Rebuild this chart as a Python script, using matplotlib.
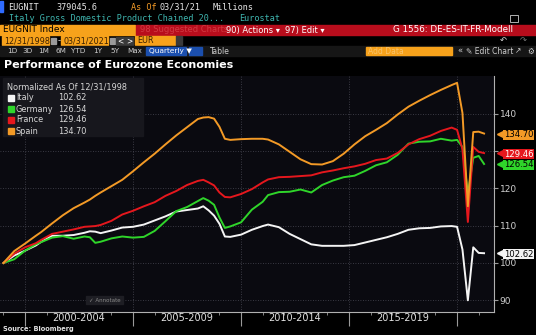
#!/usr/bin/env python3
"""Bloomberg-style chart: Performance of Eurozone Economies (GDP normalized to 12/31/1998)."""
import matplotlib
matplotlib.use("Agg")
import matplotlib.pyplot as plt
import matplotlib.transforms as mtransforms
from matplotlib.patches import Rectangle

# quarter-end dates as fractional years (12/31/1998 -> 1999.0)
dates = [1999.0, 1999.5, 2000.0, 2000.5, 2000.75, 2001.25, 2001.75, 2002.25, 2002.75,
         2003.0, 2003.25, 2003.5, 2004.0, 2004.5, 2005.0, 2005.5, 2006.0, 2006.5,
         2007.0, 2007.5, 2008.0, 2008.25, 2008.5, 2008.75, 2009.0, 2009.25, 2009.5,
         2010.0, 2010.5, 2011.0, 2011.25, 2011.75, 2012.25, 2012.75, 2013.25, 2013.75,
         2014.25, 2014.75, 2015.25, 2015.75, 2016.25, 2016.75, 2017.25, 2017.75,
         2018.25, 2018.75, 2019.25, 2019.75, 2020.0, 2020.25, 2020.5, 2020.75,
         2021.0, 2021.25]

italy = [100, 102.0, 103.3, 104.7, 105.7, 107.3, 107.3, 107.5, 108.1,
         108.5, 108.4, 108.0, 108.7, 109.5, 109.7, 110.3, 111.4, 112.5,
         113.8, 114.2, 114.6, 115.2, 114.1, 112.7, 110.5, 107.1, 107.0,
         107.6, 108.9, 109.9, 110.3, 109.6, 107.8, 106.4, 105.0, 104.6,
         104.6, 104.6, 104.8, 105.5, 106.2, 106.9, 107.8, 108.9,
         109.3, 109.4, 109.8, 109.9, 109.7, 103.6, 90.0, 104.2,
         102.7, 102.62]

germany = [100, 101.0, 103.3, 105.0, 105.6, 106.8, 107.2, 106.5, 107.1,
           106.9, 105.4, 105.7, 106.6, 107.1, 106.8, 107.0, 108.6, 111.2,
           113.9, 115.0, 116.6, 117.4, 116.7, 115.6, 112.2, 109.4, 109.8,
           110.9, 114.3, 116.4, 118.2, 119.0, 119.1, 119.7, 118.9, 120.9,
           122.1, 123.0, 123.4, 124.7, 126.2, 127.0, 129.0, 132.0,
           132.5, 132.6, 133.3, 132.8, 133.0, 131.1, 118.5, 128.2,
           128.7, 126.54]

france = [100, 102.5, 104.2, 105.3, 106.2, 107.8, 108.4, 109.0, 109.7,
          109.8, 109.9, 110.2, 111.3, 113.0, 114.0, 115.2, 116.3, 118.0,
          119.3, 120.9, 122.0, 122.3, 121.6, 120.8, 118.9, 117.7, 117.6,
          118.5, 119.8, 121.6, 122.4, 123.0, 123.1, 123.3, 123.5, 124.3,
          124.8, 125.4, 125.9, 126.6, 127.6, 128.0, 129.5, 131.8,
          133.2, 134.1, 135.4, 136.3, 135.7, 130.5, 111.0, 131.1,
          129.8, 129.46]

spain = [100, 103.2, 105.2, 107.3, 108.3, 110.6, 112.8, 114.7, 116.2,
         117.0, 118.0, 118.9, 120.6, 122.3, 124.6, 127.0, 129.3, 131.8,
         134.2, 136.4, 138.6, 139.0, 139.1, 138.7, 136.5, 133.3, 133.0,
         133.2, 133.3, 133.3, 133.1, 131.8, 129.8, 127.8, 126.5, 126.4,
         127.3, 129.3, 131.8, 134.0, 135.7, 137.5, 139.8, 141.9,
         143.5, 145.0, 146.4, 147.7, 148.3, 140.2, 115.2, 135.1,
         135.2, 134.70]

names = ["Italy", "Germany", "France", "Spain"]
last_values = ["102.62", "126.54", "129.46", "134.70"]
colors = ["#f4f4f4", "#2fd52a", "#e5171d", "#f39a26"]
tag_text_colors = ["black", "black", "white", "black"]
series = [italy, germany, france, spain]

periods = ["2000-2004", "2005-2009", "2010-2014", "2015-2019"]
period_starts = [2000, 2005, 2010, 2015]
y_ticks = [90, 100, 110, 120, 130, 140]
y_tick_labels = ["90", "100", "110", "120", "", "140"]  # 130 sits under the tags

W, H = 536, 335
fig = plt.figure(figsize=(W / 100, H / 100), dpi=100, facecolor="black")

# main chart axes (pixel box: x 0..494, y 76..312)
ax = fig.add_axes([0, (H - 312) / H, 494 / W, (312 - 76) / H])
ax.set_facecolor("#0a0a10")
ax.set_xlim(1998.84, 2021.71)
ax.set_ylim(86.86, 150.13)

for vals, c in zip(series, colors):
    ax.plot(dates, vals, color=c, lw=1.4, solid_joinstyle="round", zorder=3)

# grid
ax.set_yticks(y_ticks, y_tick_labels)
ax.set_xticks([2000, 2005, 2010, 2015, 2020])
ax.set_xticks(range(1999, 2022), minor=True)
ax.grid(True, which="major", color="#4a4a55", linestyle=(0, (1, 2)), lw=0.6)
ax.tick_params(axis="x", which="major", length=10, color="#9a9a9a", labelbottom=False)
ax.tick_params(axis="x", which="minor", length=2.5, color="#9a9a9a")
ax.yaxis.tick_right()
ax.tick_params(axis="y", length=3, color="#9a9a9a", labelcolor="#cfcfcf",
               labelsize=6.5, pad=1)
for s in ["left", "top"]:
    ax.spines[s].set_visible(False)
for s in ["right", "bottom"]:
    ax.spines[s].set_color("#b0b0b0")
    ax.spines[s].set_linewidth(0.8)

# period labels under the axis
xlab = mtransforms.blended_transform_factory(ax.transData, ax.transAxes)
for lab, st in zip(periods, period_starts):
    ax.text(st + 2.5, -0.025, lab, transform=xlab, ha="center", va="center",
            color="#e0e0e0", fontsize=7)

# last value tags at right
tagt = mtransforms.blended_transform_factory(ax.transAxes, ax.transData)
for vals, lab, c, tc in zip(series, last_values, colors, tag_text_colors):
    v = vals[-1]
    ax.plot([1.012], [v], marker="<", ms=4.5, color=c, transform=tagt,
            clip_on=False, zorder=10)
    ax.text(1.02, v, lab, transform=tagt, ha="left", va="center_baseline",
            fontsize=6.1, color=tc, zorder=11, clip_on=False,
            bbox=dict(boxstyle="square,pad=0.06", fc=c, ec="none"))

# overlay axes in pixel coordinates for the terminal chrome
ov = fig.add_axes([0, 0, 1, 1], zorder=5)
ov.set_xlim(0, W)
ov.set_ylim(H, 0)
ov.axis("off")
ov.patch.set_alpha(0)

mono = "DejaVu Sans Mono"
# row 1
ov.add_patch(Rectangle((0, 1), 3, 11, color="#2f6bff"))
ov.text(8, 7, "EUGNIT", family=mono, fontsize=6.1, color="#e6e6e6", va="center")
ov.text(56, 7, "379045.6", family=mono, fontsize=6.1, color="#e6e6e6", va="center")
ov.text(131, 7, "As Of", family=mono, fontsize=6.1, color="#f39a26", va="center")
ov.text(160, 7, "03/31/21", family=mono, fontsize=6.1, color="#e6e6e6", va="center")
ov.text(213, 7, "Millions", family=mono, fontsize=6.1, color="#e6e6e6", va="center")
# row 2
ov.text(9, 18.5, "Italy Gross Domestic Product Chained 20...", family=mono,
        fontsize=6.1, color="#3fb6b0", va="center")
ov.text(239, 18.5, "Eurostat", family=mono, fontsize=6.1, color="#3fb6b0", va="center")
ov.add_patch(Rectangle((510, 15), 8, 7, fc="none", ec="#cccccc", lw=0.6))
# row 3
ov.add_patch(Rectangle((0, 25), 135, 10, color="#f7a21b"))
ov.add_patch(Rectangle((136, 25), 400, 10, color="#b80d1c"))
ov.text(3, 30, "EUGNIT Index", fontsize=6.5, color="black", va="center")
ov.text(140, 30, "98 Suggested Charts", fontsize=6, color="#d23a42", va="center")
ov.text(226, 30, "90) Actions \u25be", fontsize=6, color="white", va="center")
ov.text(285, 30, "97) Edit \u25be", fontsize=6, color="white", va="center")
ov.text(513, 30, "G 1556: DE-ES-IT-FR-Modell", fontsize=6.3, color="white",
        va="center", ha="right")
# row 4
ov.add_patch(Rectangle((2, 36), 47, 9, color="#f7a21b"))
ov.text(4, 40.5, "12/31/1998", fontsize=5.8, color="#3a2000", va="center")
ov.add_patch(Rectangle((51, 37.5), 5, 6, color="#9a9a9a"))
ov.text(58, 40.5, "-", fontsize=6, color="#dddddd", va="center")
ov.add_patch(Rectangle((61, 36), 47, 9, color="#f7a21b"))
ov.text(63, 40.5, "03/31/2021", fontsize=5.8, color="#3a2000", va="center")
ov.add_patch(Rectangle((110, 37.5), 5, 6, color="#9a9a9a"))
ov.add_patch(Rectangle((116, 36.5), 8, 8, color="#3a3a3a"))
ov.text(120, 40.5, "<", fontsize=5.5, color="white", va="center", ha="center")
ov.add_patch(Rectangle((125, 36.5), 8, 8, color="#3a3a3a"))
ov.text(129, 40.5, ">", fontsize=5.5, color="white", va="center", ha="center")
ov.add_patch(Rectangle((135, 36), 40, 9, color="#f7a21b"))
ov.text(137, 40.5, "EUR", fontsize=5.8, color="#3a2000", va="center")
ov.add_patch(Rectangle((176, 36), 6, 9, color="#3a3a3a"))
ov.text(500, 40.5, "\u21b6", fontsize=6, color="#dddddd", va="center")
ov.text(520, 40.5, "\u21b7", fontsize=6, color="#777777", va="center")
# row 5
ov.add_patch(Rectangle((0, 46), 536, 9.5, color="#161616"))
for xx, t in zip([7, 22, 38, 55, 71, 93, 110, 127],
                 ["1D", "3D", "1M", "6M", "YTD", "1Y", "5Y", "Max"]):
    ov.text(xx, 51, t, fontsize=5.2, color="#cfcfcf", va="center")
ov.add_patch(Rectangle((146, 47), 40, 8, color="#1b4fae"))
ov.text(149, 51, "Quarterly \u25bc", fontsize=5.3, color="white", va="center")
ov.add_patch(Rectangle((189, 47), 13, 8, color="#1b4fae"))
ov.text(210, 51, "Table", fontsize=5.5, color="#cfcfcf", va="center")
ov.add_patch(Rectangle((366, 47), 86, 8, color="#f7a21b"))
ov.text(368, 51, "Add Data", fontsize=5.5, color="#f9c36a", va="center")
ov.text(457, 51, "\u00ab", fontsize=6, color="#cfcfcf", va="center")
ov.text(466, 51, "\u270e Edit Chart", fontsize=5.5, color="#cfcfcf", va="center")
ov.text(515, 51, "\u2197", fontsize=5.5, color="#cfcfcf", va="center")
ov.text(527, 51, "\u2699", fontsize=5.5, color="#cfcfcf", va="center")

# title
ov.text(4, 65, "Performance of Eurozone Economies", fontsize=8, fontweight="bold",
        color="white", va="center")

# legend box
ov.add_patch(Rectangle((3, 78), 140, 58, color="#17171d"))
ov.text(7, 87, "Normalized As Of 12/31/1998", fontsize=5.9, color="#d8d8d8", va="center")
for i, (n, v, c) in enumerate(zip(names, last_values, colors)):
    yy = 98 + i * 11
    ov.add_patch(Rectangle((8, yy - 3), 6, 6, color=c))
    ov.text(16, yy, n, fontsize=5.9, color="#d8d8d8", va="center")
    ov.text(58, yy, v, fontsize=5.9, color="#d8d8d8", va="center")

# annotate button
ov.add_patch(Rectangle((86, 296), 37, 8, color="#1e1e24"))
ov.text(89, 300, "\u2713 Annotate", fontsize=4, color="#8a8a8a", va="center")

# source
ov.text(3, 329.5, "Source: Bloomberg", fontsize=4.8, fontweight="bold",
        color="#e0e0e0", va="center")

fig.savefig("out.png", dpi=100, facecolor="black")
